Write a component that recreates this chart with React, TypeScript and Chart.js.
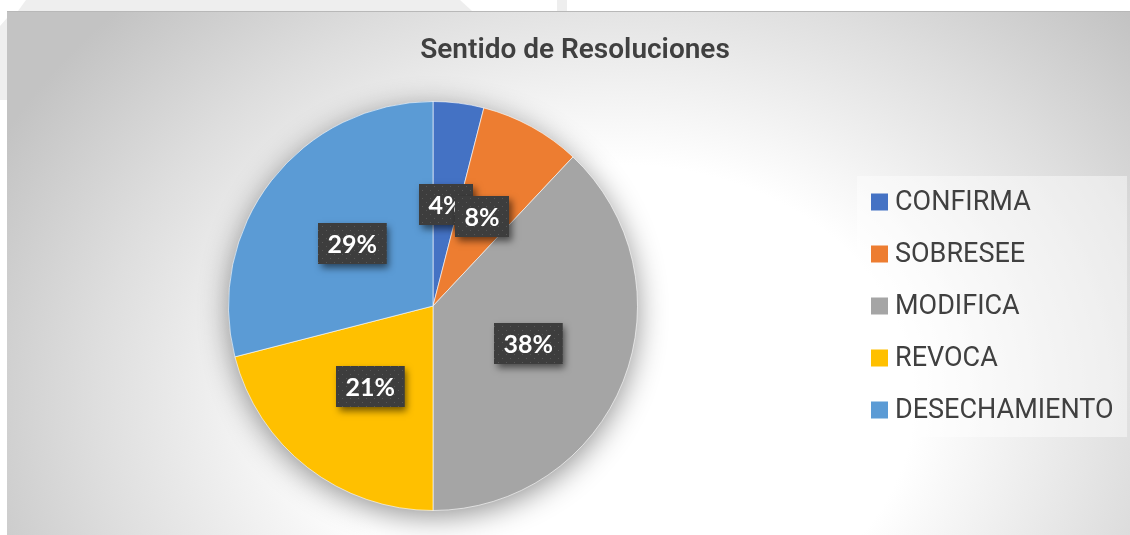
import React, { useEffect, useRef } from "react";
import { Chart, registerables } from "chart.js";

Chart.register(...registerables);

const TITLE = "Sentido de Resoluciones";
const CATEGORIES = ["CONFIRMA", "SOBRESEE", "MODIFICA", "REVOCA", "DESECHAMIENTO"];
const VALUES = [4, 8, 38, 21, 29];
const COLORS = ["#4472C4", "#ED7D31", "#A5A5A5", "#FFC000", "#5B9BD5"];
const DATA_LABELS = VALUES.map((v) => `${v}%`);

const W = 1130;
const H = 535;

function makePattern(ctx: CanvasRenderingContext2D) {
  const c = document.createElement("canvas");
  c.width = 8;
  c.height = 8;
  const p = c.getContext("2d")!;
  p.fillStyle = "#3d3d3d";
  p.fillRect(0, 0, 8, 8);
  p.fillStyle = "#575757";
  p.fillRect(2, 2, 1, 1);
  p.fillRect(6, 6, 1, 1);
  return ctx.createPattern(c, "repeat");
}

const backgroundPlugin = {
  id: "bg",
  beforeDraw(chart: any) {
    const ctx: CanvasRenderingContext2D = chart.ctx;
    ctx.save();
    ctx.fillStyle = "#ffffff";
    ctx.fillRect(0, 0, W, H);
    // faint page shapes above the chart box
    ctx.fillStyle = "#eeeeee";
    ctx.beginPath();
    ctx.moveTo(26, 0);
    ctx.lineTo(460, 0);
    ctx.lineTo(472, 11);
    ctx.lineTo(18, 11);
    ctx.closePath();
    ctx.fill();
    ctx.fillRect(557, 0, 10, 11);
    ctx.beginPath();
    ctx.moveTo(0, 26);
    ctx.lineTo(7, 18);
    ctx.lineTo(7, 100);
    ctx.lineTo(0, 100);
    ctx.closePath();
    ctx.fill();

    // chart box with radial gradient
    const bx = 7, by = 11, bw = W - 7, bh = H - 11;
    const cx = 620, cy = 400, rx = 700, ry = 560;
    ctx.save();
    ctx.beginPath();
    ctx.rect(bx, by, bw, bh);
    ctx.clip();
    ctx.translate(cx, cy);
    ctx.scale(1, ry / rx);
    const g = ctx.createRadialGradient(0, 0, 0, 0, 0, rx);
    g.addColorStop(0, "#ffffff");
    g.addColorStop(0.42, "#ffffff");
    g.addColorStop(0.75, "#dedede");
    g.addColorStop(1, "#c3c3c3");
    ctx.fillStyle = g;
    ctx.fillRect(-cx - 10, -cy * (rx / ry) - 10, W + 20, H * (rx / ry) + 40);
    ctx.restore();
    ctx.fillStyle = "#b8b8b8";
    ctx.fillRect(bx, by, bw, 1);

    // title
    ctx.fillStyle = "#404040";
    ctx.font = "600 28px Roboto";
    ctx.textAlign = "center";
    ctx.textBaseline = "middle";
    ctx.fillText(TITLE, 575, 51);

    // legend
    ctx.fillStyle = "rgba(255,255,255,0.45)";
    ctx.fillRect(857, 176, 270, 261);
    ctx.font = "400 27px Roboto";
    ctx.textAlign = "left";
    ctx.textBaseline = "middle";
    CATEGORIES.forEach((name, i) => {
      const yc = 202 + i * 52;
      ctx.fillStyle = COLORS[i];
      ctx.fillRect(871, yc - 8.5, 17, 17);
      ctx.fillStyle = "#404040";
      ctx.fillText(name, 895, yc + 1);
    });
    ctx.restore();
  },
  beforeDatasetsDraw(chart: any) {
    const ctx: CanvasRenderingContext2D = chart.ctx;
    const arc = chart.getDatasetMeta(0).data[0];
    if (!arc) return;
    const { x, y, outerRadius } = arc.getProps(["x", "y", "outerRadius"], true);
    ctx.save();
    ctx.shadowColor = "rgba(0,0,0,0.45)";
    ctx.shadowBlur = 30;
    ctx.shadowOffsetX = 0;
    ctx.shadowOffsetY = 6;
    ctx.fillStyle = "#cccccc";
    ctx.beginPath();
    ctx.arc(x, y, outerRadius - 1, 0, Math.PI * 2);
    ctx.fill();
    ctx.restore();
  },
  afterDatasetsDraw(chart: any) {
    const ctx: CanvasRenderingContext2D = chart.ctx;
    const pattern = makePattern(ctx);
    const meta = chart.getDatasetMeta(0);
    ctx.save();
    ctx.font = "700 25px Lato";
    meta.data.forEach((el: any, i: number) => {
      const p = el.tooltipPosition(true);
      const text = DATA_LABELS[i];
      const tw = ctx.measureText(text).width;
      const bw = tw + 19;
      const bh = 41;
      const x0 = Math.round(p.x - bw / 2);
      const y0 = Math.round(p.y - bh / 2);
      ctx.save();
      ctx.shadowColor = "rgba(0,0,0,0.55)";
      ctx.shadowBlur = 7;
      ctx.shadowOffsetX = 3;
      ctx.shadowOffsetY = 4;
      ctx.fillStyle = "#3d3d3d";
      ctx.fillRect(x0, y0, bw, bh);
      ctx.restore();
      ctx.fillStyle = pattern || "#3d3d3d";
      ctx.fillRect(x0, y0, bw, bh);
      ctx.fillStyle = "#ffffff";
      ctx.textAlign = "center";
      ctx.textBaseline = "middle";
      ctx.fillText(text, x0 + bw / 2, y0 + bh / 2 + 1);
    });
    ctx.restore();
  },
};

export default function App() {
  const ref = useRef<HTMLCanvasElement | null>(null);
  useEffect(() => {
    if (!ref.current) return;
    const chart = new Chart(ref.current, {
      type: "pie",
      data: {
        labels: CATEGORIES,
        datasets: [
          {
            data: VALUES,
            backgroundColor: COLORS,
            borderColor: "rgba(255,255,255,0.6)",
            borderWidth: 1,
          },
        ],
      },
      options: {
        responsive: false,
        animation: false,
        devicePixelRatio: 1,
        layout: { padding: { left: 228, top: 101, right: 492, bottom: 24 } },
        plugins: {
          legend: { display: false },
          tooltip: { enabled: false },
          title: { display: false },
        },
      },
      plugins: [backgroundPlugin],
    } as any);
    return () => chart.destroy();
  }, []);
  return (
    <div style={{ position: "absolute", left: 0, top: 0, width: W, height: H }}>
      <canvas ref={ref} width={W} height={H} style={{ display: "block" }} />
    </div>
  );
}
